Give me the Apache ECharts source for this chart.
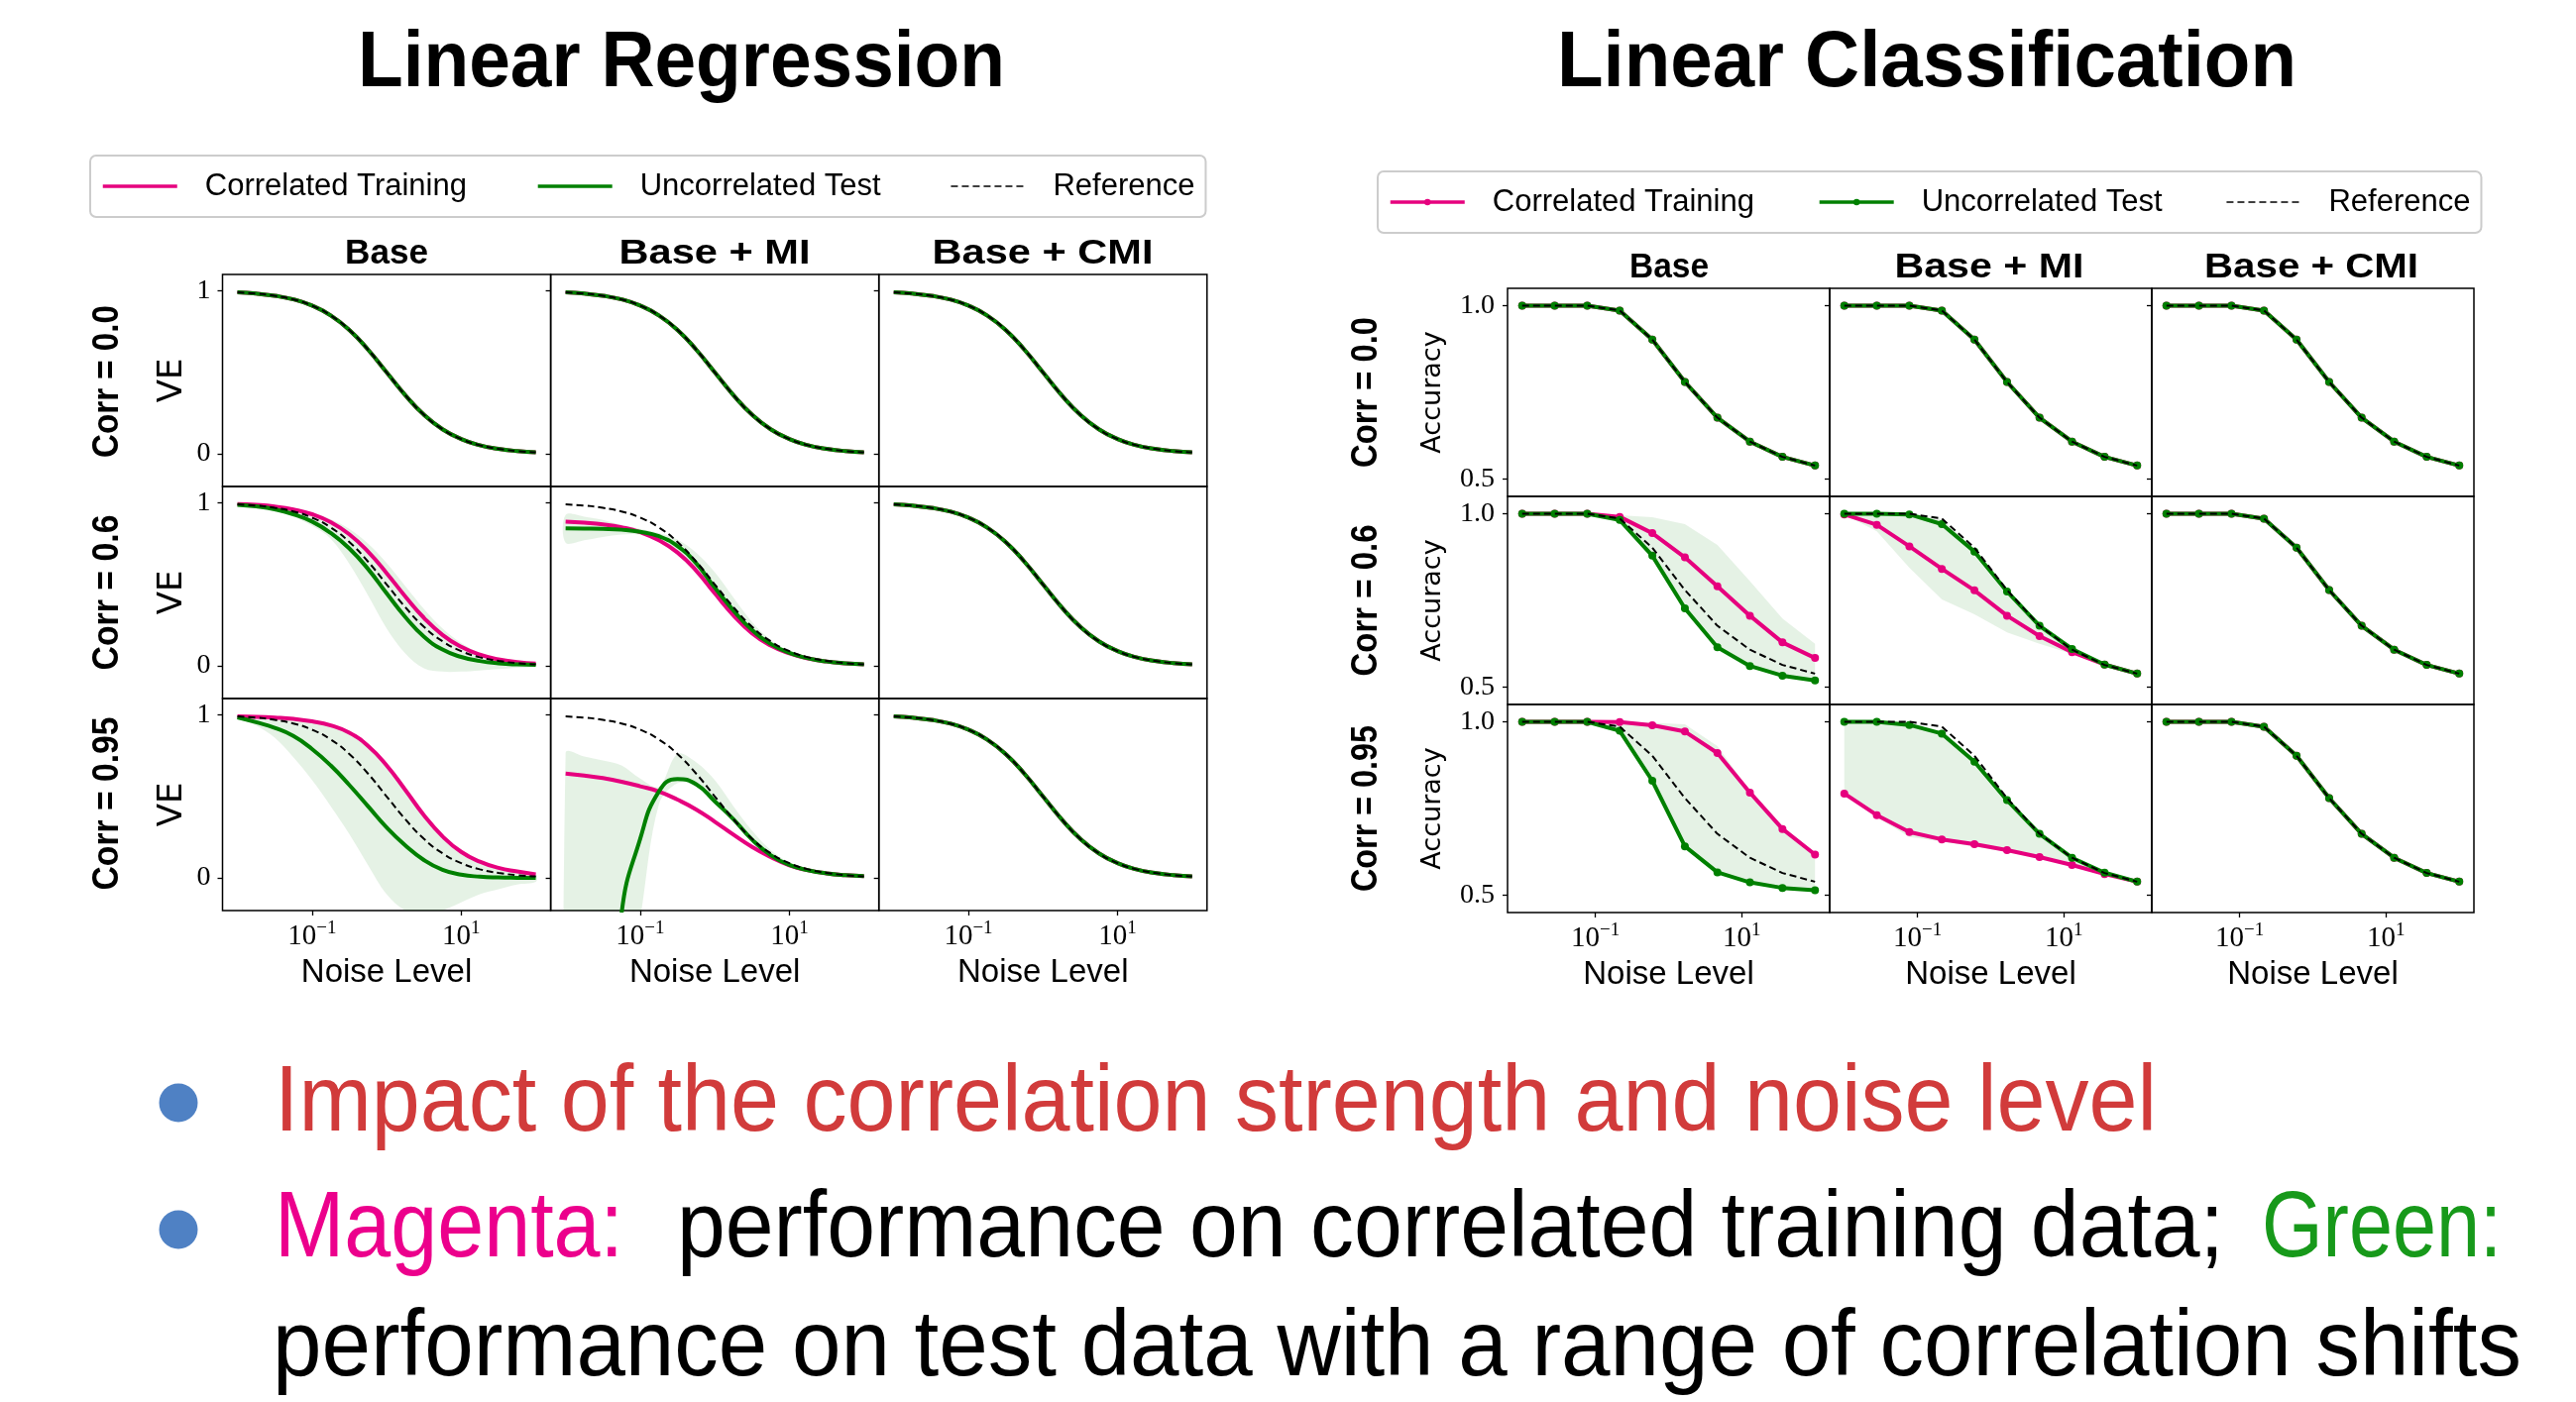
<!DOCTYPE html>
<html><head><meta charset="utf-8">
<script src="https://cdn.jsdelivr.net/npm/echarts@6/dist/echarts.min.js"></script>
<style>html,body{margin:0;padding:0;background:#fff;}#c{width:2599px;height:1415px;}</style>
</head><body><div id="c"></div>
<script>
// ---------------- DATA ----------------
const FIG_TITLES = ['Linear Regression', 'Linear Classification'];
const METHODS = ['Base', 'Base + MI', 'Base + CMI'];
const CORR_LABELS = ['Corr = 0.0', 'Corr = 0.6', 'Corr = 0.95'];
const SERIES_NAMES = ['Correlated Training', 'Uncorrelated Test', 'Reference'];
const X_LABEL = 'Noise Level';
const X_TICKS = [0.1, 10];
const LR_Y_TICKS = [0, 1];
const LC_Y_TICKS = [0.5, 1.0];
const BULLET_1 = 'Impact of the correlation strength and noise level';
const BULLET_2A = 'Magenta:';
const BULLET_2B = 'performance on correlated training data;';
const BULLET_2C = 'Green:';
const BULLET_3 = 'performance on test data with a range of correlation shifts';

// Linear regression: noise levels and variance explained (VE)
const NOISE_LR = [0.01, 0.0178, 0.0316, 0.0562, 0.1, 0.178, 0.316, 0.562, 1, 1.78, 3.16, 5.62, 10, 17.8, 31.6, 56.2, 100];
const VE_REF = [0.990, 0.983, 0.969, 0.947, 0.909, 0.849, 0.760, 0.640, 0.500, 0.360, 0.240, 0.151, 0.091, 0.053, 0.031, 0.017, 0.010];
const VE_C06_BASE_TRAIN = [0.992, 0.987, 0.977, 0.959, 0.930, 0.881, 0.807, 0.701, 0.569, 0.426, 0.295, 0.190, 0.117, 0.069, 0.040, 0.023, 0.014];
const VE_C06_BASE_TEST = [0.988, 0.978, 0.960, 0.930, 0.885, 0.815, 0.720, 0.595, 0.445, 0.300, 0.180, 0.100, 0.055, 0.030, 0.016, 0.009, 0.006];
const VE_C06_BASE_LO = [0.985, 0.972, 0.950, 0.915, 0.860, 0.780, 0.626, 0.433, 0.230, 0.077, -0.014, -0.035, -0.035, -0.028, -0.020, -0.012, -0.004];
const VE_C06_BASE_HI = [0.993, 0.988, 0.979, 0.963, 0.940, 0.900, 0.840, 0.750, 0.630, 0.490, 0.350, 0.230, 0.140, 0.080, 0.045, 0.025, 0.015];
const VE_C06_MI_TRAIN = [0.885, 0.878, 0.868, 0.850, 0.820, 0.770, 0.695, 0.585, 0.445, 0.310, 0.200, 0.125, 0.077, 0.046, 0.027, 0.016, 0.010];
const VE_C06_MI_TEST = [0.843, 0.842, 0.840, 0.835, 0.822, 0.795, 0.735, 0.630, 0.480, 0.340, 0.220, 0.135, 0.080, 0.047, 0.027, 0.016, 0.010];
const VE_C06_MI_LO = [0.755, 0.770, 0.790, 0.805, 0.805, 0.765, 0.685, 0.565, 0.435, 0.300, 0.195, 0.120, 0.073, 0.044, 0.026, 0.015, 0.009];
const VE_C06_MI_HI = [0.925, 0.915, 0.895, 0.865, 0.840, 0.815, 0.775, 0.695, 0.575, 0.420, 0.270, 0.160, 0.090, 0.052, 0.030, 0.017, 0.010];
const VE_C095_BASE_TRAIN = [0.990, 0.988, 0.983, 0.975, 0.960, 0.935, 0.890, 0.810, 0.690, 0.540, 0.385, 0.255, 0.160, 0.100, 0.062, 0.040, 0.022];
const VE_C095_BASE_TEST = [0.985, 0.955, 0.920, 0.870, 0.790, 0.690, 0.570, 0.440, 0.310, 0.200, 0.110, 0.050, 0.020, 0.008, 0.003, 0.001, 0.000];
const VE_C095_BASE_LO = [0.980, 0.935, 0.860, 0.740, 0.600, 0.440, 0.270, 0.080, -0.100, -0.200, -0.230, -0.200, -0.150, -0.100, -0.070, -0.040, -0.024];
const VE_C095_BASE_HI = [0.992, 0.990, 0.986, 0.978, 0.964, 0.940, 0.896, 0.818, 0.700, 0.550, 0.395, 0.262, 0.165, 0.103, 0.064, 0.041, 0.023];
const VE_C095_MI_TRAIN = [0.640, 0.628, 0.612, 0.590, 0.562, 0.530, 0.480, 0.420, 0.345, 0.265, 0.190, 0.128, 0.077, 0.047, 0.028, 0.017, 0.011];
const VE_C095_MI_TEST = [-6.0, -3.5, -1.6, -0.22, 0.24, 0.53, 0.607, 0.575, 0.470, 0.360, 0.235, 0.140, 0.080, 0.048, 0.028, 0.017, 0.011];
const VE_C095_MI_LO = [-6.0, -3.5, -1.6, -0.9, -0.25, 0.45, 0.58, 0.56, 0.46, 0.35, 0.228, 0.135, 0.077, 0.046, 0.027, 0.016, 0.010];
const VE_C095_MI_HI = [0.765, 0.745, 0.720, 0.690, 0.610, 0.560, 0.760, 0.710, 0.600, 0.440, 0.290, 0.170, 0.095, 0.055, 0.031, 0.018, 0.011];

// Linear classification: noise levels and accuracy
const NOISE_LC = [0.01, 0.0278, 0.0774, 0.215, 0.599, 1.67, 4.64, 12.9, 35.9, 100];
const ACC_REF = [1.000, 1.000, 1.000, 0.986, 0.902, 0.780, 0.677, 0.608, 0.564, 0.539];
const ACC_C06_BASE_TRAIN = [1.000, 1.000, 1.000, 0.991, 0.944, 0.874, 0.791, 0.706, 0.629, 0.584];
const ACC_C06_BASE_TEST = [1.000, 1.000, 1.000, 0.982, 0.879, 0.727, 0.615, 0.561, 0.533, 0.519];
const ACC_C06_BASE_LO = [1.000, 1.000, 1.000, 0.982, 0.879, 0.727, 0.615, 0.561, 0.533, 0.519];
const ACC_C06_BASE_HI = [1.000, 1.000, 1.000, 0.996, 0.990, 0.970, 0.910, 0.806, 0.698, 0.625];
const ACC_C06_MI_TRAIN = [0.998, 0.968, 0.906, 0.841, 0.779, 0.706, 0.647, 0.601, 0.565, 0.539];
const ACC_C06_MI_TEST = [1.000, 1.000, 0.998, 0.970, 0.891, 0.776, 0.677, 0.610, 0.565, 0.539];
const ACC_C06_MI_LO = [0.998, 0.949, 0.844, 0.753, 0.710, 0.658, 0.625, 0.596, 0.565, 0.539];
const ACC_C06_MI_HI = [1.000, 1.000, 1.000, 0.985, 0.895, 0.778, 0.678, 0.610, 0.565, 0.539];
const ACC_C095_BASE_TRAIN = [1.000, 1.000, 1.000, 0.999, 0.990, 0.972, 0.910, 0.796, 0.691, 0.617];
const ACC_C095_BASE_TEST = [1.000, 1.000, 1.000, 0.974, 0.830, 0.641, 0.566, 0.537, 0.521, 0.514];
const ACC_C095_BASE_LO = [1.000, 1.000, 1.000, 0.974, 0.830, 0.641, 0.566, 0.537, 0.521, 0.514];
const ACC_C095_BASE_HI = [1.000, 1.000, 1.000, 1.000, 0.997, 0.993, 0.930, 0.800, 0.695, 0.620];
const ACC_C095_MI_TRAIN = [0.793, 0.731, 0.682, 0.661, 0.647, 0.630, 0.610, 0.587, 0.561, 0.539];
const ACC_C095_MI_TEST = [1.000, 1.000, 0.991, 0.966, 0.885, 0.774, 0.677, 0.608, 0.565, 0.539];
const ACC_C095_MI_LO = [0.793, 0.725, 0.668, 0.655, 0.640, 0.625, 0.608, 0.585, 0.560, 0.538];
const ACC_C095_MI_HI = [1.000, 1.000, 0.995, 0.970, 0.890, 0.778, 0.678, 0.610, 0.566, 0.539];

// ---------------- LAYOUT / STYLE ----------------
const MAG = '#e6007e', GRN = '#008000', BAND = 'rgba(0,128,0,0.1)';
const X_MIN = Math.pow(10, -2.2), X_MAX = Math.pow(10, 2.2);
const LC_SUFFIX = ' (LC)';

const LR_PANELS = [
  [{tr: VE_REF, te: VE_REF}, {tr: VE_REF, te: VE_REF}, {tr: VE_REF, te: VE_REF}],
  [{tr: VE_C06_BASE_TRAIN, te: VE_C06_BASE_TEST, lo: VE_C06_BASE_LO, hi: VE_C06_BASE_HI},
   {tr: VE_C06_MI_TRAIN, te: VE_C06_MI_TEST, lo: VE_C06_MI_LO, hi: VE_C06_MI_HI},
   {tr: VE_REF, te: VE_REF}],
  [{tr: VE_C095_BASE_TRAIN, te: VE_C095_BASE_TEST, lo: VE_C095_BASE_LO, hi: VE_C095_BASE_HI},
   {tr: VE_C095_MI_TRAIN, te: VE_C095_MI_TEST, lo: VE_C095_MI_LO, hi: VE_C095_MI_HI},
   {tr: VE_REF, te: VE_REF}]
];
const LC_PANELS = [
  [{tr: ACC_REF, te: ACC_REF}, {tr: ACC_REF, te: ACC_REF}, {tr: ACC_REF, te: ACC_REF}],
  [{tr: ACC_C06_BASE_TRAIN, te: ACC_C06_BASE_TEST, lo: ACC_C06_BASE_LO, hi: ACC_C06_BASE_HI},
   {tr: ACC_C06_MI_TRAIN, te: ACC_C06_MI_TEST, lo: ACC_C06_MI_LO, hi: ACC_C06_MI_HI},
   {tr: ACC_REF, te: ACC_REF}],
  [{tr: ACC_C095_BASE_TRAIN, te: ACC_C095_BASE_TEST, lo: ACC_C095_BASE_LO, hi: ACC_C095_BASE_HI},
   {tr: ACC_C095_MI_TRAIN, te: ACC_C095_MI_TEST, lo: ACC_C095_MI_LO, hi: ACC_C095_MI_HI},
   {tr: ACC_REF, te: ACC_REF}]
];

const FIGS = [
  {panels: LR_PANELS, noise: NOISE_LR, ref: VE_REF, left: 224.5, colW: 331.1, top: 277, rowH: 214,
   yMin: -0.2, yMax: 1.1, yTicks: LR_Y_TICKS, yFmt: v => String(Math.round(v)), yName: 'VE', yNameSize: 34, yNameGap: 33,
   labelMargin: 12, smooth: 0.5, polySmooth: 0.35, markers: false, suffix: ''},
  {panels: LC_PANELS, noise: NOISE_LC, ref: ACC_REF, left: 1521, colW: 325, top: 291, rowH: 210,
   yMin: 0.45, yMax: 1.05, yTicks: LC_Y_TICKS, yFmt: v => v.toFixed(1), yName: 'Accuracy', yNameSize: 27, yNameGap: 62,
   labelMargin: 13, smooth: false, polySmooth: 0, markers: true, suffix: LC_SUFFIX}
];

const grids = [], xAxes = [], yAxes = [], series = [];
const zip = (xs, ys) => xs.map((x, i) => [x, ys[i]]);

function bandSeries(g, xs, lo, hi, polySmooth) {
  return {
    type: 'custom', xAxisIndex: g, yAxisIndex: g, silent: true, z: 1, clip: true, animation: false,
    data: xs.map((x, i) => [x, lo[i], hi[i]]),
    encode: {x: 0, y: [1, 2]},
    renderItem: (params, api) => {
      if (params.dataIndex !== 0) return null;
      const pts = [];
      for (let i = 0; i < xs.length; i++) pts.push(api.coord([xs[i], hi[i]]));
      for (let i = xs.length - 1; i >= 0; i--) pts.push(api.coord([xs[i], lo[i]]));
      return {type: 'polygon', shape: {points: pts, smooth: polySmooth}, style: {fill: BAND, stroke: null}};
    }
  };
}

FIGS.forEach(f => {
  for (let r = 0; r < 3; r++) {
    for (let c = 0; c < 3; c++) {
      const g = grids.length;
      const p = f.panels[r][c];
      grids.push({left: f.left + c * f.colW, top: f.top + r * f.rowH, width: f.colW, height: f.rowH,
        show: true, borderColor: '#000', borderWidth: 1.5, backgroundColor: 'rgba(0,0,0,0)'});
      xAxes.push({gridIndex: g, type: 'log', logBase: 10, min: X_MIN, max: X_MAX,
        axisLine: {show: false, onZero: false}, splitLine: {show: false}, minorTick: {show: false},
        axisTick: {show: r === 2, customValues: X_TICKS, length: 5, inside: false, lineStyle: {color: '#000', width: 1.3}},
        axisLabel: {show: r === 2, customValues: X_TICKS, margin: 9,
          formatter: v => (v < 1 ? '{b|10}{s|\u22121}' : '{b|10}{s|1}'),
          rich: {b: {fontFamily: 'Liberation Serif', fontSize: 29, color: '#000', lineHeight: 34},
                 s: {fontFamily: 'Liberation Serif', fontSize: 19, color: '#000', lineHeight: 14, verticalAlign: 'top'}}},
        name: r === 2 ? X_LABEL : '', nameLocation: 'middle', nameGap: 46,
        nameTextStyle: {fontFamily: 'Liberation Sans', fontSize: 33, color: '#000'}});
      yAxes.push({gridIndex: g, type: 'value', min: f.yMin, max: f.yMax,
        axisLine: {show: false, onZero: false}, splitLine: {show: false},
        axisTick: {show: true, customValues: f.yTicks, length: 5, inside: false, lineStyle: {color: '#000', width: 1.3}},
        axisLabel: {show: c === 0, customValues: f.yTicks, margin: f.labelMargin, formatter: f.yFmt,
          fontFamily: 'Liberation Serif', fontSize: 28, color: '#000'},
        name: c === 0 ? f.yName : '', nameLocation: 'middle', nameRotate: 90, nameGap: f.yNameGap,
        nameTextStyle: {fontFamily: 'DejaVu Sans', fontSize: f.yNameSize, color: '#000'}});
      if (p.lo) series.push(bandSeries(g, f.noise, p.lo, p.hi, f.polySmooth));
      const common = {type: 'line', xAxisIndex: g, yAxisIndex: g, animation: false, emphasis: {disabled: true}, silent: true};
      const mk = f.markers ? {symbol: 'circle', symbolSize: 8, showAllSymbol: true} : {symbol: 'none'};
      series.push(Object.assign({}, common, mk, {name: SERIES_NAMES[0] + f.suffix, data: zip(f.noise, p.tr), smooth: f.smooth,
        lineStyle: {color: MAG, width: 4}, itemStyle: {color: MAG}, z: 2}));
      series.push(Object.assign({}, common, mk, {name: SERIES_NAMES[1] + f.suffix, data: zip(f.noise, p.te), smooth: f.smooth,
        lineStyle: {color: GRN, width: 4}, itemStyle: {color: GRN}, z: 3}));
      series.push(Object.assign({}, common, {name: SERIES_NAMES[2] + f.suffix, data: zip(f.noise, f.ref), symbol: 'none', smooth: f.smooth,
        lineStyle: {color: '#000', width: 2, type: [7, 4]}, itemStyle: {color: '#000'}, z: 4}));
    }
  }
});

function legendCfg(suffix, left, top, gap) {
  return {
    data: [
      {name: SERIES_NAMES[0] + suffix, itemStyle: suffix ? {} : {opacity: 0}, lineStyle: {width: 3.5}},
      {name: SERIES_NAMES[1] + suffix, itemStyle: suffix ? {} : {opacity: 0}, lineStyle: {width: 3.5}},
      {name: SERIES_NAMES[2] + suffix, itemStyle: {opacity: 0}, lineStyle: {width: 1.6}}
    ],
    formatter: n => n.replace(LC_SUFFIX, ''),
    orient: 'horizontal', left: left, top: top, padding: 11, itemGap: gap, itemWidth: 75, itemHeight: 8,
    selectedMode: false, backgroundColor: '#fff', borderColor: '#cccccc', borderWidth: 2, borderRadius: 6,
    textStyle: {fontFamily: 'Liberation Sans', fontSize: 31, color: '#000', lineHeight: 40, padding: [0, 0, 0, 23]}
  };
}

// text helper: fits a real text element to a measured length
const mctx = document.createElement('canvas').getContext('2d');
function fitText(t) {
  const weight = t.weight || 'normal';
  const fam = t.family || 'Liberation Sans';
  mctx.font = weight + ' ' + t.size + 'px "' + fam + '"';
  const w = mctx.measureText(t.text).width;
  const align = t.align || 'center';
  return {type: 'text', x: t.x, y: t.y, rotation: t.rot || 0, scaleX: t.len ? t.len / w : 1, scaleY: 1, silent: true, z: 100,
    style: {text: t.text, fontSize: t.size, fontWeight: weight, fontFamily: fam, fill: t.color || '#000',
      align: align, verticalAlign: 'middle', textAlign: align, textVerticalAlign: 'middle'}};
}
const R90 = Math.PI / 2;
const graphics = [
  fitText({text: FIG_TITLES[0], x: 687.5, y: 65, size: 80, weight: 'bold', len: 653}),
  fitText({text: FIG_TITLES[1], x: 1944, y: 65, size: 80, weight: 'bold', len: 746}),
  fitText({text: METHODS[0], x: 390, y: 256, size: 35, weight: 'bold', len: 84}),
  fitText({text: METHODS[1], x: 721, y: 256, size: 35, weight: 'bold', len: 193}),
  fitText({text: METHODS[2], x: 1052, y: 256, size: 35, weight: 'bold', len: 223}),
  fitText({text: METHODS[0], x: 1684, y: 270, size: 35, weight: 'bold', len: 80}),
  fitText({text: METHODS[1], x: 2007, y: 270, size: 35, weight: 'bold', len: 191}),
  fitText({text: METHODS[2], x: 2332, y: 270, size: 35, weight: 'bold', len: 216}),
  fitText({text: CORR_LABELS[0], x: 108.6, y: 385, size: 37, weight: 'bold', len: 154, rot: R90}),
  fitText({text: CORR_LABELS[1], x: 108.6, y: 598, size: 37, weight: 'bold', len: 157, rot: R90}),
  fitText({text: CORR_LABELS[2], x: 108.6, y: 811, size: 37, weight: 'bold', len: 175, rot: R90}),
  fitText({text: CORR_LABELS[0], x: 1379, y: 396, size: 37, weight: 'bold', len: 152, rot: R90}),
  fitText({text: CORR_LABELS[1], x: 1379, y: 606, size: 37, weight: 'bold', len: 153, rot: R90}),
  fitText({text: CORR_LABELS[2], x: 1379, y: 816, size: 37, weight: 'bold', len: 168, rot: R90}),
  {type: 'circle', shape: {cx: 180, cy: 1113, r: 19.5}, style: {fill: '#4f81c4'}, silent: true},
  {type: 'circle', shape: {cx: 180, cy: 1241, r: 19.5}, style: {fill: '#4f81c4'}, silent: true},
  fitText({text: BULLET_1, x: 277, y: 1115, size: 95, len: 1899, align: 'left', color: '#d13b3b'}),
  fitText({text: BULLET_2A, x: 277, y: 1242, size: 95, len: 352, align: 'left', color: '#ec008c'}),
  fitText({text: BULLET_2B, x: 683, y: 1242, size: 95, len: 1561, align: 'left', color: '#000'}),
  fitText({text: BULLET_2C, x: 2282, y: 1242, size: 95, len: 242, align: 'left', color: '#17991a'}),
  fitText({text: BULLET_3, x: 275, y: 1362, size: 95, len: 2269, align: 'left', color: '#000'})
];

const chart = echarts.init(document.getElementById('c'), null, {renderer: 'canvas', width: 2599, height: 1415});
chart.setOption({
  backgroundColor: '#fff',
  animation: false,
  legend: [legendCfg('', 91, 157, 70), legendCfg(LC_SUFFIX, 1390, 173, 64)],
  grid: grids, xAxis: xAxes, yAxis: yAxes, series: series,
  graphic: {elements: graphics}
});
</script></body></html>
